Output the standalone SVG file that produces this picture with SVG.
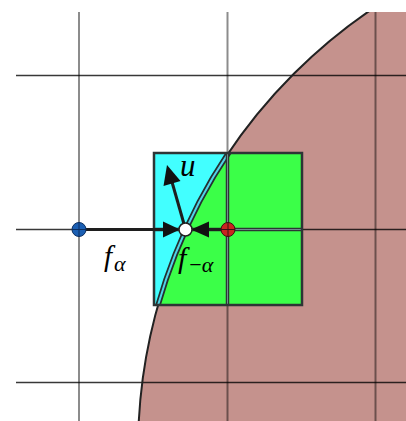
<svg xmlns="http://www.w3.org/2000/svg" width="406" height="421" viewBox="0 0 406 421">
<defs>
<style>
.vgrid{stroke:#000;stroke-opacity:0.45;stroke-width:2;fill:none}
.hgrid{stroke:#000;stroke-opacity:0.78;stroke-width:1.6;fill:none}
.shaft{stroke:#1e1e1e;stroke-width:3;fill:none}
.head{fill:#111}
.cell{stroke:#2d3535;stroke-width:2.5}
</style>
<clipPath id="frame"><rect x="16" y="12" width="390" height="409"/></clipPath>
<clipPath id="box"><rect x="154" y="153" width="148" height="152"/></clipPath>
<clipPath id="outbox"><path d="M0 0H406V421H0Z M154 153V305H302V153Z" clip-rule="evenodd"/></clipPath>
<clipPath id="inside"><circle cx="670" cy="450" r="532"/></clipPath>
</defs>
<rect width="406" height="421" fill="#fff"/>
<g id="region" clip-path="url(#frame)">
<circle cx="670" cy="450" r="532" fill="#c5928d"/>
</g>
<g id="grid" clip-path="url(#frame)">
<line class="vgrid" x1="79" y1="12" x2="79" y2="421"/>
<line class="vgrid" x1="227.5" y1="12" x2="227.5" y2="421"/>
<line class="vgrid" x1="375.5" y1="12" x2="375.5" y2="421"/>
<line class="hgrid" x1="16" y1="75.5" x2="406" y2="75.5"/>
<line class="hgrid" x1="16" y1="229.5" x2="406" y2="229.5"/>
<line class="hgrid" x1="16" y1="382.5" x2="406" y2="382.5"/>
</g>
<g id="boundary" clip-path="url(#outbox)">
<g clip-path="url(#frame)"><circle cx="670" cy="450" r="532" fill="none" stroke="#222" stroke-width="2"/></g>
</g>
<g id="cells">
<rect x="154" y="153" width="148" height="152" fill="#42ffff"/>
<g clip-path="url(#inside)">
<rect x="154" y="153" width="148" height="152" fill="#3bff48"/>
</g>
<g clip-path="url(#box)">
<circle cx="670" cy="450" r="532" fill="none" stroke="#253030" stroke-width="5.5"/>
<circle cx="670" cy="450" r="532" fill="none" stroke="#4fd3e8" stroke-width="2"/>
</g>
<line x1="227.5" y1="153" x2="227.5" y2="305" stroke="#2d3535" stroke-width="3.5"/>
<line x1="227.5" y1="153" x2="227.5" y2="305" stroke="#6f8d8d" stroke-width="1"/>
<line x1="154" y1="229.5" x2="302" y2="229.5" stroke="#2d3535" stroke-width="3.5"/>
<line x1="154" y1="229.5" x2="302" y2="229.5" stroke="#6f8d8d" stroke-width="1"/>
<rect class="cell" x="154" y="153" width="148" height="152" fill="none"/>
</g>
<g id="connectors">
<line class="shaft" x1="79" y1="229.5" x2="166" y2="229.5"/>
<polygon class="head" points="180,229.5 163,221.5 163,237.5"/>
<line class="shaft" x1="228" y1="229.5" x2="206" y2="229.5"/>
<polygon class="head" points="191,229.5 209,221.5 209,237.5"/>
<line class="shaft" x1="184" y1="224" x2="172" y2="182"/>
<polygon class="head" points="167,165 163.5,186 180.5,181"/>
</g>
<g id="dot-blue">
<circle cx="79" cy="229.5" r="7" fill="#1b5fb3" stroke="#0d2f60" stroke-width="1"/>
<path d="M72 229.5H86M79 222.5V236.5" stroke="#0d2f60" stroke-width="1"/>
</g>
<g id="dot-white">
<circle cx="185.5" cy="229.5" r="6.5" fill="#fff" stroke="#222" stroke-width="1.5"/>
</g>
<g id="dot-red">
<circle cx="228" cy="229.5" r="7" fill="#c92420" stroke="#3a1010" stroke-width="1"/>
<path d="M221 229.5H235M228 222.5V236.5" stroke="#3a1010" stroke-width="1"/>
</g>
<g id="labels" font-family="Liberation Serif, DejaVu Serif, serif" font-style="italic" fill="#000">
<text x="180" y="176" font-size="31">u</text>
<text x="104" y="266" font-size="29">f<tspan font-size="22" dx="2" dy="5">α</tspan></text>
<text x="178" y="268" font-size="30">f<tspan font-size="22" dx="3" dy="4" font-style="normal">−</tspan><tspan font-size="22">α</tspan></text>
</g>
</svg>
